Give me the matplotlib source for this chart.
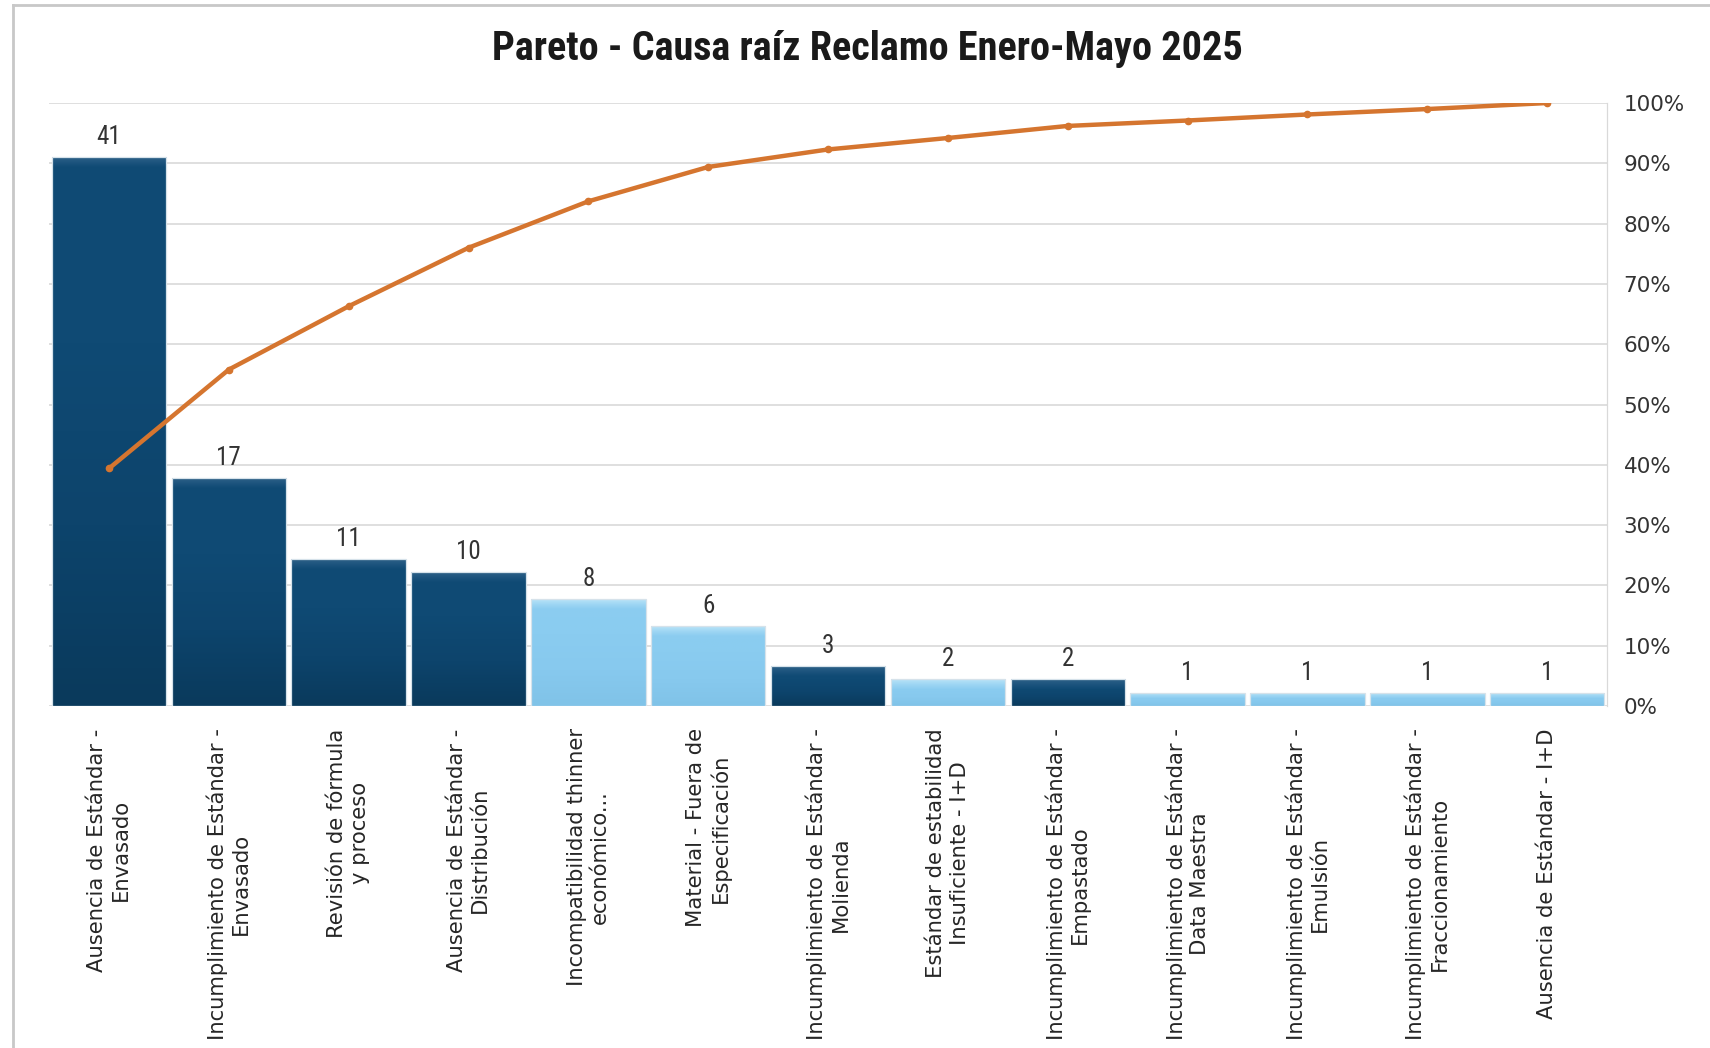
import numpy as np
import matplotlib
matplotlib.use("Agg")
import matplotlib.pyplot as plt
from matplotlib import font_manager
from matplotlib.colors import LinearSegmentedColormap
from matplotlib.lines import Line2D

# Data
causas = [
    "Ausencia de Estándar -\nEnvasado",
    "Incumplimiento de Estándar -\nEnvasado",
    "Revisión de fórmula\ny proceso",
    "Ausencia de Estándar -\nDistribución",
    "Incompatibilidad thinner\neconómico...",
    "Material - Fuera de\nEspecificación",
    "Incumplimiento de Estándar -\nMolienda",
    "Estándar de estabilidad\nInsuficiente - I+D",
    "Incumplimiento de Estándar -\nEmpastado",
    "Incumplimiento de Estándar -\nData Maestra",
    "Incumplimiento de Estándar -\nEmulsión",
    "Incumplimiento de Estándar -\nFraccionamiento",
    "Ausencia de Estándar - I+D",
]
reclamos = [41, 17, 11, 10, 8, 6, 3, 2, 2, 1, 1, 1, 1]
acumulado_pct = [39.4, 55.8, 66.3, 76.0, 83.7, 89.4, 92.3, 94.2, 96.2, 97.1, 98.1, 99.0, 100.0]
grupo = ["osc", "osc", "osc", "osc", "cla", "cla", "osc", "cla", "osc", "cla", "cla", "cla", "cla"]
pct_ticks = [0, 10, 20, 30, 40, 50, 60, 70, 80, 90, 100]


def pick_font(names, default="DejaVu Sans"):
    for n in names:
        try:
            font_manager.findfont(n, fallback_to_default=False)
            return n
        except Exception:
            pass
    return default


narrow = pick_font(["Liberation Sans Narrow", "Roboto Condensed", "Roboto"])

fig = plt.figure(figsize=(17.1, 10.48), dpi=100)
ax = fig.add_axes([0.0287, 0.3263, 0.9111, 0.5754])
ax2 = ax.twinx()

x = np.arange(len(reclamos))
ymax = 45.0

# body gradient (bottom -> top) and bevel band at the top of every bar
cuerpo = {
    "osc": LinearSegmentedColormap.from_list("osc", ["#0a3a5c", "#0d446c", "#0f4a74", "#104b75"]),
    "cla": LinearSegmentedColormap.from_list("cla", ["#80c3e8", "#87c9ee", "#8accf0", "#8ccdf0"]),
}
bisel = {
    "osc": LinearSegmentedColormap.from_list("osc_b", ["#104b75", "#1f5680", "#34658a"]),
    "cla": LinearSegmentedColormap.from_list("cla_b", ["#8ccdf0", "#a2d8f4", "#bfe6f8"]),
}

bars = ax.bar(x, reclamos, width=0.955, facecolor="none", edgecolor="#d6e2ea",
              linewidth=0.9, zorder=3)
grad = np.linspace(0, 1, 100).reshape(-1, 1)
for b, g in zip(bars, grupo):
    x0, w, h = b.get_x(), b.get_width(), b.get_height()
    im = ax.imshow(grad, extent=[x0, x0 + w, 0, h], origin="lower", aspect="auto",
                   cmap=cuerpo[g], zorder=2)
    im.set_clip_path(b)
    band = min(0.75, h * 0.4)
    im2 = ax.imshow(grad, extent=[x0, x0 + w, h - band, h], origin="lower", aspect="auto",
                    cmap=bisel[g], zorder=2.1)
    im2.set_clip_path(b)

for xi, v in zip(x, reclamos):
    ax.text(xi, v + 0.6, str(v), ha="center", va="bottom", fontsize=18,
            family=narrow, color="#333333", zorder=5)

ax.set_xlim(-0.5, len(reclamos) - 0.5)
ax.set_ylim(0, ymax)
ax.set_yticks([ymax * t / 100 for t in pct_ticks])
ax.set_yticklabels([])
ax.tick_params(axis="y", length=0, left=False)
ax.grid(axis="y", color="#d9d9d9", linewidth=1.2, zorder=0)
ax.set_axisbelow(True)
ax.set_xticks(x)
ax.set_xticklabels(causas, rotation=90, ha="center", va="top", multialignment="center",
                   fontsize=15.2, color="#262626")
ax.tick_params(axis="x", length=0, pad=16)
for s in ["top", "left", "bottom"]:
    ax.spines[s].set_visible(False)
ax.spines["right"].set_color("#d9d9d9")

ax2.plot(x, acumulado_pct, color="#d5752f", linewidth=3.2, marker="o", markersize=4.5,
         zorder=6, solid_capstyle="round")
ax2.set_ylim(0, 100)
ax2.set_yticks(pct_ticks)
ax2.set_yticklabels([f"{t}%" for t in pct_ticks], fontsize=15.5, color="#333333")
ax2.tick_params(axis="y", length=0, pad=12)
for s in ["top", "left", "bottom"]:
    ax2.spines[s].set_visible(False)
ax2.spines["right"].set_color("#d9d9d9")

fig.text(0.507, 0.953, "Pareto - Causa raíz Reclamo Enero-Mayo 2025", ha="center",
         va="center", fontsize=29, fontweight="bold", family=narrow, color="#1a1a1a")

# marco exterior del gráfico
fig.add_artist(Line2D([0.0076, 0.0076], [0, 0.995], transform=fig.transFigure,
                      color="#c8c8c8", linewidth=2))
fig.add_artist(Line2D([0.0076, 1], [0.995, 0.995], transform=fig.transFigure,
                      color="#c8c8c8", linewidth=2))

fig.savefig("out.png", dpi=100)
